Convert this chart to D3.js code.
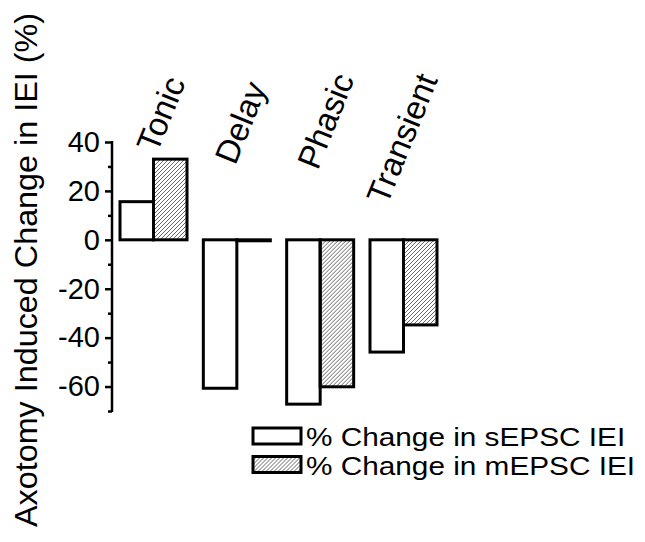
<!DOCTYPE html>
<html>
<head>
<meta charset="utf-8">
<script src="https://cdn.jsdelivr.net/npm/d3@7"></script>
<style>
    body { margin: 0; background: #fff; }
    text { font-family: "Liberation Sans", Arial, sans-serif; fill: #000; }
</style>
</head>
<body>
<div id="chart"></div>
<script>
"use strict";

const categories = ["Tonic", "Delay", "Phasic", "Transient"];
const series = ["% Change in sEPSC IEI", "% Change in mEPSC IEI"];
const sEPSC = [15.6, -60.7, -67.2, -45.9];
const mEPSC = [33, -0.4, -60.1, -34.8];
const majorTicks = [40, 20, 0, -20, -40, -60];
const minorTicks = [30, 10, -10, -30, -50, -70];

// label placement, tuned by eye: x offset from group start, baseline y
const labelDx = [37, 32, 31, 17];
const labelY = [154, 166, 171, 206];

const width = 645,
    height = 542;

const svg = d3.select("#chart").append("svg")
    .attr("width", width)
    .attr("height", height)
    .style("background", "#fff");

const defs = svg.append("defs");
defs.append("pattern")
    .attr("id", "hatch")
    .attr("patternUnits", "userSpaceOnUse")
    .attr("width", 4)
    .attr("height", 4)
    .append("path")
    .attr("d", "M-1,1 l2,-2 M0,4 l4,-4 M3,5 l2,-2")
    .attr("stroke", "#555")
    .attr("stroke-width", 0.9);

const y = d3.scaleLinear()
    .domain([-70, 40])
    .range([411, 142]);

const x = d3.scaleBand()
    .domain(categories)
    .range([120, 437])
    .paddingInner(0.196)
    .paddingOuter(0);

const xs = d3.scaleBand()
    .domain(series)
    .range([0, x.bandwidth()]);

const values = [sEPSC, mEPSC];
const fills = ["#fff", "url(#hatch)"];

// bars
const groups = svg.append("g")
    .selectAll("g")
    .data(categories)
    .join("g")
    .attr("transform", (d) => `translate(${x(d)},0)`);

groups.selectAll("rect")
    .data((d, i) => series.map((s, j) => ({ s: s, j: j, v: values[j][i] })))
    .join("rect")
    .attr("x", (d) => xs(d.s))
    .attr("width", xs.bandwidth())
    .attr("y", (d) => y(Math.max(0, d.v)))
    .attr("height", (d) => Math.abs(y(d.v) - y(0)))
    .attr("fill", (d) => fills[d.j])
    .attr("stroke", "#000")
    .attr("stroke-width", 3);

// y axis
const axisX = 112;
const ax = svg.append("g")
    .attr("transform", `translate(${axisX},0)`);

ax.append("g")
    .call(d3.axisLeft(y).tickValues(majorTicks).tickSize(7).tickPadding(5).tickFormat((d) => String(d)))
    .call((g) => g.select(".domain").remove())
    .call((g) => g.selectAll("line").attr("stroke-width", 2.5))
    .call((g) => g.selectAll("text")
        .style("font-size", "29px")
        .style("font-family", "'Liberation Sans', Arial, sans-serif")
        .attr("fill", "#000"));

ax.append("g")
    .call(d3.axisLeft(y).tickValues(minorTicks).tickSize(4).tickFormat(""))
    .call((g) => g.select(".domain").remove())
    .call((g) => g.selectAll("line").attr("stroke-width", 2.5));

ax.append("line")
    .attr("y1", y(-70) + 1)
    .attr("y2", y(40) - 1)
    .attr("stroke", "#000")
    .attr("stroke-width", 2.5);

// axis title
svg.append("text")
    .attr("transform", `translate(37,${270}) rotate(-90)`)
    .attr("text-anchor", "middle")
    .style("font-size", "31px")
    .attr("textLength", 514)
    .attr("lengthAdjust", "spacingAndGlyphs")
    .text("Axotomy Induced Change in IEI (%)");

// category labels
svg.append("g")
    .selectAll("text")
    .data(categories)
    .join("text")
    .attr("transform", (d, i) => `translate(${x(d) + labelDx[i]},${labelY[i]}) rotate(-68)`)
    .style("font-size", "33px")
    .text((d) => d);

// legend
const legend = svg.append("g")
    .attr("transform", "translate(253,428)");

const rows = legend.selectAll("g")
    .data(series)
    .join("g")
    .attr("transform", (d, i) => `translate(0,${i * 28.5})`);

rows.append("rect")
    .attr("width", 48)
    .attr("height", 16)
    .attr("fill", (d, i) => fills[i])
    .attr("stroke", "#000")
    .attr("stroke-width", 3);

rows.append("text")
    .attr("x", 53)
    .attr("y", 18)
    .style("font-size", "25px")
    .text((d) => d)
    .each(function () {
        const w = this.getComputedTextLength();
        d3.select(this)
            .attr("textLength", w * 1.19)
            .attr("lengthAdjust", "spacingAndGlyphs");
    });
</script>
</body>
</html>
